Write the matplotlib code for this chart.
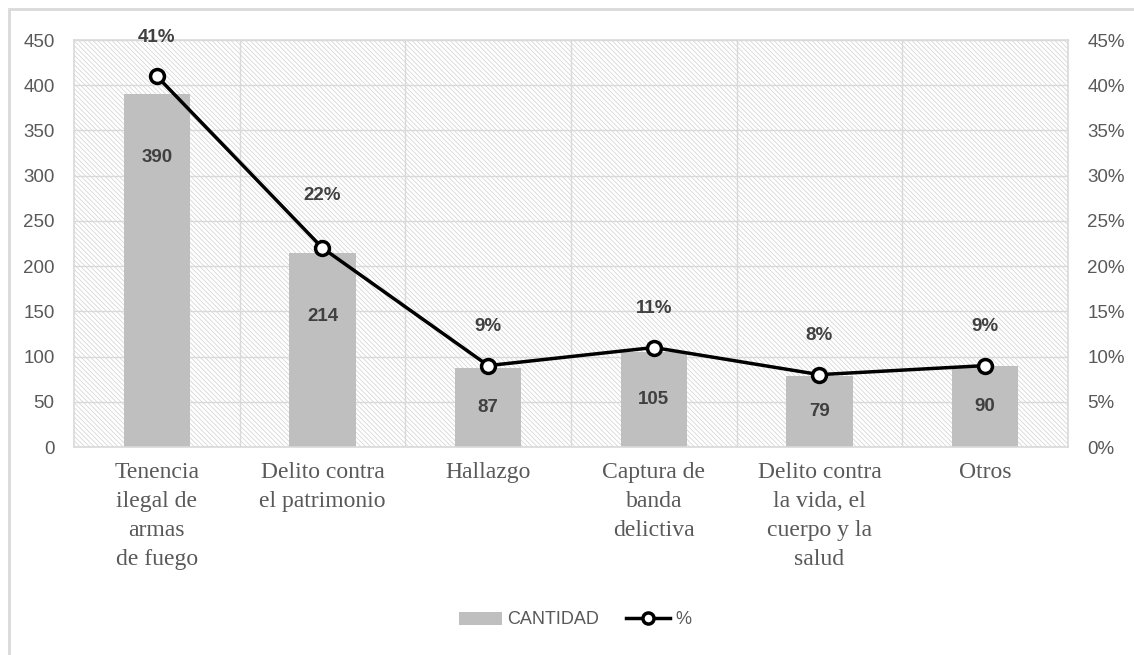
import numpy as np
import matplotlib
matplotlib.use("Agg")
import matplotlib.pyplot as plt
from matplotlib.patches import Rectangle
from matplotlib.lines import Line2D
from matplotlib.ticker import FuncFormatter

categorias = ["Tenencia\nilegal de\narmas\nde fuego",
              "Delito contra\nel patrimonio",
              "Hallazgo",
              "Captura de\nbanda\ndelictiva",
              "Delito contra\nla vida, el\ncuerpo y la\nsalud",
              "Otros"]
cantidad = [390, 214, 87, 105, 79, 90]
porcentaje = [41, 22, 9, 11, 8, 9]

plt.rcParams['hatch.linewidth'] = 0.5
plt.rcParams['hatch.color'] = '#d0d0d0'

num_font = ['Liberation Sans', 'DejaVu Sans']
cat_font = ['Liberation Serif', 'DejaVu Serif']
gris = '#595959'

fig = plt.figure(figsize=(11.34, 6.55), dpi=100)
ax = fig.add_axes([74/1134, 1-447/655, (1068-74)/1134, (447-40)/655])

# marco del grafico
fig.patches.append(Rectangle((9/1134, -0.1), 1.2, 1 - 9/655 + 0.1,
                             transform=fig.transFigure, fill=False,
                             edgecolor='#d9d9d9', linewidth=2))

x = np.arange(len(categorias))
ax.set_xlim(-0.5, len(categorias) - 0.5)
ax.set_ylim(0, 450)

# fondo rayado del area de trazado
ax.add_patch(Rectangle((0, 0), 1, 1, transform=ax.transAxes, facecolor='white',
                       hatch='\\' * 7, edgecolor='#d0d0d0', linewidth=0, zorder=0))

ax.set_yticks(np.arange(0, 451, 50))
ax.grid(axis='y', color='#d9d9d9', linewidth=1, zorder=1)
for xv in np.arange(0.5, len(categorias) - 1, 1):
    ax.axvline(xv, color='#d9d9d9', linewidth=1, zorder=1)
for s in ax.spines.values():
    s.set_color('#d9d9d9')
    s.set_linewidth(1.2)

ax.bar(x, cantidad, width=0.4, color='#bfbfbf', zorder=2)
for xi, v in zip(x, cantidad):
    ax.text(xi, max(v - 70, v / 2), str(v), ha='center', va='center',
            fontsize=13.5, fontweight='bold', color='#404040', family=num_font, zorder=5)

ax.set_xticks(x)
ax.set_xticklabels(categorias, family=cat_font, fontsize=17, color=gris,
                   linespacing=1.5)
ax.tick_params(axis='x', length=0, pad=11)
ax.tick_params(axis='y', length=0, pad=14, labelsize=13.5, labelcolor=gris)
for lbl in ax.get_yticklabels():
    lbl.set_family(num_font)

ax2 = ax.twinx()
ax2.set_ylim(0, 45)
ax2.set_yticks(np.arange(0, 46, 5))
ax2.yaxis.set_major_formatter(FuncFormatter(lambda v, p: f"{int(v)}%"))
ax2.tick_params(axis='y', length=0, pad=14, labelsize=13.5, labelcolor=gris)
for lbl in ax2.get_yticklabels():
    lbl.set_family(num_font)
for s in ax2.spines.values():
    s.set_visible(False)

ax2.plot(x, porcentaje, color='black', linewidth=2.5, marker='o', markersize=10,
         markerfacecolor='white', markeredgecolor='black', markeredgewidth=2.5, zorder=4)
for xi, p in zip(x, porcentaje):
    dy = 38 if 15 < p < 30 else 28
    ax2.annotate(f"{p}%", (xi, p), xytext=(0, dy), textcoords='offset points',
                 ha='center', va='center', fontsize=13.5, fontweight='bold',
                 color='#404040', family=num_font)

handles = [Rectangle((0, 0), 1, 1, facecolor='#bfbfbf', edgecolor='none'),
           Line2D([], [], color='black', linewidth=2.5, marker='o', markersize=8,
                  markerfacecolor='white', markeredgewidth=2.5)]
fig.legend(handles, ['CANTIDAD', '%'], loc='center', bbox_to_anchor=(575/1134, 1-620/655),
           ncol=2, frameon=False, prop={'family': num_font, 'size': 13},
           labelcolor=gris, handlelength=2.4, handletextpad=0.3, columnspacing=1.5)

fig.savefig("out.png", dpi=100)
